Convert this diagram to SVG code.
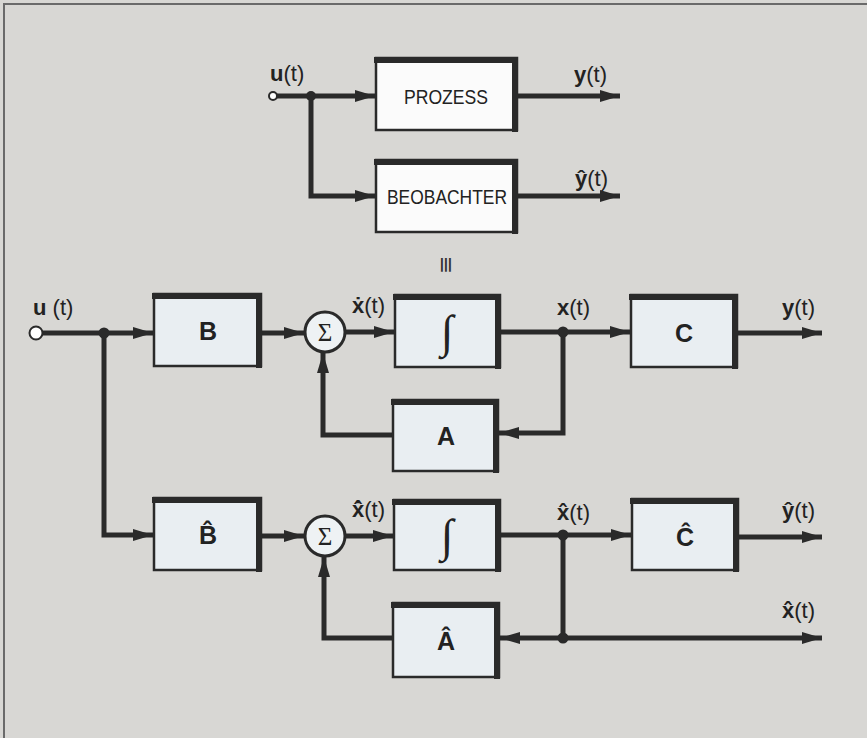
<svg xmlns="http://www.w3.org/2000/svg" width="867" height="738" viewBox="0 0 867 738">
<defs>
<style>
.bg{fill:#d8d7d4}
.frame{fill:none;stroke:#6a6a6a;stroke-width:2}
.box{stroke:#2a2a2a;stroke-width:2.5}
.wbox{fill:#fbfbfb}
.lbox{fill:#e9eef2}
.edge{fill:none;stroke:#2a2a2a;stroke-width:6;stroke-linecap:square}
.line{fill:none;stroke:#2a2a2a;stroke-width:5}
.arr{marker-end:url(#ah)}
.dot{fill:#2a2a2a}
.sum{fill:#eef2f4;stroke:#2a2a2a;stroke-width:3}
.lbl{font-family:"Liberation Sans",Arial,sans-serif;font-size:22px;fill:#222}
.b{font-weight:bold}
.big{font-family:"Liberation Sans",Arial,sans-serif;font-size:25px;font-weight:bold;fill:#222;text-anchor:middle}
.nm{font-family:"Liberation Sans",Arial,sans-serif;font-size:21px;fill:#222;text-anchor:middle}
.sig{font-family:"Liberation Serif","Times New Roman",serif;font-size:25px;fill:#222;text-anchor:middle}
.int{font-family:"Liberation Serif","Times New Roman",serif;font-size:46px;fill:#222;text-anchor:middle}
</style>
<marker id="ah" markerUnits="userSpaceOnUse" markerWidth="20" markerHeight="12" refX="20" refY="6" orient="auto">
<path d="M0,0 L20,6 L0,12 z" fill="#2a2a2a"/>
</marker>
</defs>
<rect class="bg" x="0" y="0" width="867" height="738"/>
<path class="frame" d="M4,740 V4 H870"/>

<g id="connectors">
<path class="line arr" d="M277,96 H375"/>
<path class="line arr" d="M311,96 V196 H375"/>
<path class="line arr" d="M518,96 H620"/>
<path class="line arr" d="M518,196 H620"/>
<path class="line arr" d="M42,333 H153"/>
<path class="line arr" d="M104,333 V535 H153"/>
<path class="line arr" d="M262,333 H304"/>
<path class="line arr" d="M346,332 H394"/>
<path class="line arr" d="M500,332 H630"/>
<path class="line arr" d="M737,333 H822"/>
<path class="line arr" d="M563,332 V433 H499"/>
<path class="line arr" d="M393,435 H323 V353"/>
<path class="line arr" d="M262,536 H304"/>
<path class="line arr" d="M346,536 H393"/>
<path class="line arr" d="M500,535 H631"/>
<path class="line arr" d="M738,537 H822"/>
<path class="line" d="M563,535 V638"/>
<path class="line arr" d="M563,638 H500"/>
<path class="line arr" d="M563,638 H822"/>
<path class="line arr" d="M393,638 H324 V557"/>
<circle class="dot" cx="311" cy="96" r="5"/>
<circle class="dot" cx="104" cy="333" r="5.5"/>
<circle class="dot" cx="563" cy="332" r="5.5"/>
<circle class="dot" cx="563" cy="535" r="5.5"/>
<circle class="dot" cx="563" cy="638" r="5.5"/>
<circle cx="273" cy="96" r="4" fill="#fff" stroke="#2a2a2a" stroke-width="2"/>
<circle cx="36" cy="333" r="6.5" fill="#fff" stroke="#2a2a2a" stroke-width="2"/>
</g>

<g id="labels">
<text class="lbl" x="270" y="81"><tspan class="b">u</tspan>(t)</text>
<text class="lbl" x="574" y="82"><tspan class="b">y</tspan>(t)</text>
<text class="lbl" x="575" y="186"><tspan class="b">ŷ</tspan>(t)</text>
<text class="lbl" x="33" y="315"><tspan class="b">u</tspan> (t)</text>
<text class="lbl" x="352" y="313"><tspan class="b">ẋ</tspan>(t)</text>
<text class="lbl" x="557" y="315"><tspan class="b">x</tspan>(t)</text>
<text class="lbl" x="782" y="315"><tspan class="b">y</tspan>(t)</text>
<text class="lbl" x="352" y="517"><tspan class="b">ẋ̂</tspan>(t)</text>
<text class="lbl" x="557" y="520"><tspan class="b">x̂</tspan>(t)</text>
<text class="lbl" x="782" y="518"><tspan class="b">ŷ</tspan>(t)</text>
<text class="lbl" x="782" y="618"><tspan class="b">x̂</tspan>(t)</text>
<text x="446" y="265" transform="rotate(90 446 265)" text-anchor="middle" dominant-baseline="central" font-family="DejaVu Sans, sans-serif" font-size="22" fill="#333">≡</text>
</g>

<g id="prozess">
<rect class="box wbox" x="376" y="58" width="141" height="72"/>
<path class="edge" d="M377,60 H515 V129"/>
<text class="nm" x="446" y="104" textLength="84" lengthAdjust="spacingAndGlyphs">PROZESS</text>
</g>
<g id="beobachter">
<rect class="box wbox" x="376" y="160" width="141" height="72"/>
<path class="edge" d="M377,162 H515 V231"/>
<text class="nm" x="447" y="204" textLength="120" lengthAdjust="spacingAndGlyphs">BEOBACHTER</text>
</g>

<g id="B">
<rect class="box lbox" x="154" y="294" width="107" height="72"/>
<path class="edge" d="M155,296 H259 V365"/>
<text class="big" x="208" y="340">B</text>
</g>
<g id="sum1">
<circle class="sum" cx="325" cy="332" r="20"/>
<text class="sig" x="325" y="341">Σ</text>
</g>
<g id="int1">
<rect class="box lbox" x="395" y="295" width="105" height="72"/>
<path class="edge" d="M396,297 H498 V366"/>
<text class="int" x="447" y="347">∫</text>
</g>
<g id="C">
<rect class="box lbox" x="631" y="295" width="106" height="72"/>
<path class="edge" d="M632,297 H735 V366"/>
<text class="big" x="684" y="342">C</text>
</g>
<g id="A">
<rect class="box lbox" x="393" y="400" width="105" height="71"/>
<path class="edge" d="M394,402 H496 V470"/>
<text class="big" x="446" y="445">A</text>
</g>

<g id="Bhat">
<rect class="box lbox" x="154" y="498" width="107" height="72"/>
<path class="edge" d="M155,500 H259 V569"/>
<text class="big" x="208" y="544">B̂</text>
</g>
<g id="sum2">
<circle class="sum" cx="325" cy="536" r="20"/>
<text class="sig" x="325" y="545">Σ</text>
</g>
<g id="int2">
<rect class="box lbox" x="394" y="500" width="106" height="70"/>
<path class="edge" d="M395,502 H498 V569"/>
<text class="int" x="447" y="551">∫</text>
</g>
<g id="Chat">
<rect class="box lbox" x="632" y="499" width="106" height="71"/>
<path class="edge" d="M633,501 H736 V569"/>
<text class="big" x="685" y="546">Ĉ</text>
</g>
<g id="Ahat">
<rect class="box lbox" x="393" y="603" width="106" height="74"/>
<path class="edge" d="M394,605 H497 V676"/>
<text class="big" x="446" y="650">Â</text>
</g>
</svg>
